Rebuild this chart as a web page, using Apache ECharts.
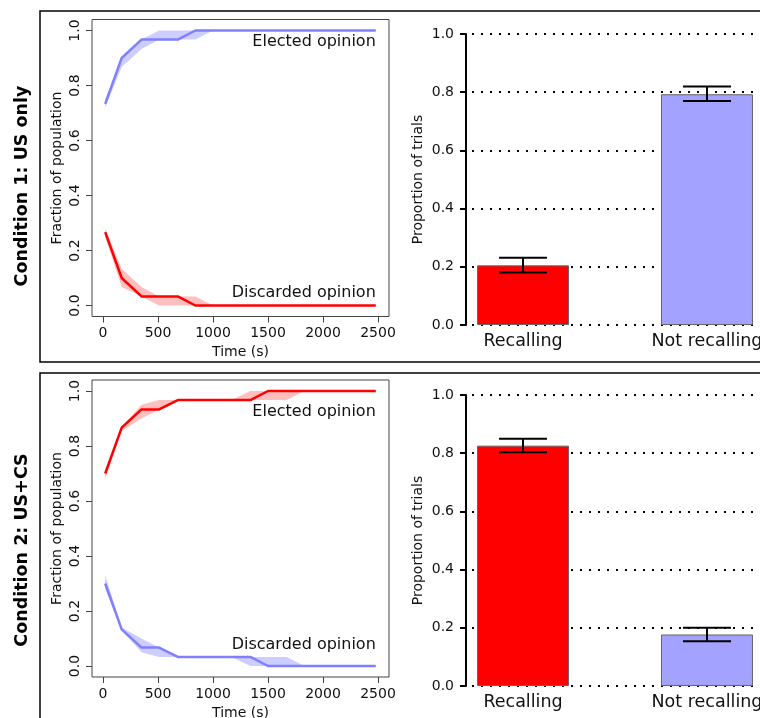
<!DOCTYPE html>
<html>
<head>
<meta charset="utf-8">
<script src="https://cdn.jsdelivr.net/npm/echarts@6/dist/echarts.min.js"></script>
<style>
  html, body { margin: 0; padding: 0; background: #fff; }
  #chart { width: 760px; height: 718px; }
</style>
</head>
<body>
<div id="chart"></div>
<script>
// sampling times (s)
const times = [20, 170, 350, 510, 680, 840, 1000, 1170, 1340, 1500, 1670, 1830, 2000, 2160, 2330, 2480]

// condition 1 (US only): elected = blue, discarded = red
const c1ElectedMean = [0.733, 0.9, 0.967, 0.967, 0.967, 1, 1, 1, 1, 1, 1, 1, 1, 1, 1, 1]
const c1ElectedLo   = [0.72, 0.867, 0.933, 0.967, 0.967, 0.967, 1, 1, 1, 1, 1, 1, 1, 1, 1, 1]
const c1ElectedHi   = [0.75, 0.9, 0.967, 1, 1, 1, 1, 1, 1, 1, 1, 1, 1, 1, 1, 1]
const c1DiscardedMean = [0.267, 0.1, 0.033, 0.033, 0.033, 0, 0, 0, 0, 0, 0, 0, 0, 0, 0, 0]
const c1DiscardedLo   = [0.25, 0.067, 0.033, 0, 0, 0, 0, 0, 0, 0, 0, 0, 0, 0, 0, 0]
const c1DiscardedHi   = [0.28, 0.133, 0.067, 0.033, 0.033, 0.033, 0, 0, 0, 0, 0, 0, 0, 0, 0, 0]

// condition 2 (US+CS): elected = red, discarded = blue
const c2ElectedMean = [0.7, 0.867, 0.933, 0.933, 0.967, 0.967, 0.967, 0.967, 0.967, 1, 1, 1, 1, 1, 1, 1]
const c2ElectedLo   = [0.68, 0.855, 0.9, 0.933, 0.967, 0.967, 0.967, 0.967, 0.967, 0.967, 0.967, 1, 1, 1, 1, 1]
const c2ElectedHi   = [0.71, 0.87, 0.95, 0.967, 0.967, 0.967, 0.967, 0.967, 1, 1, 1, 1, 1, 1, 1, 1]
const c2DiscardedMean = [0.3, 0.133, 0.067, 0.067, 0.033, 0.033, 0.033, 0.033, 0.033, 0, 0, 0, 0, 0, 0, 0]
const c2DiscardedLo   = [0.28, 0.13, 0.05, 0.033, 0.033, 0.033, 0.033, 0.033, 0, 0, 0, 0, 0, 0, 0, 0]
const c2DiscardedHi   = [0.33, 0.14, 0.1, 0.067, 0.033, 0.033, 0.033, 0.033, 0.033, 0.033, 0.033, 0, 0, 0, 0, 0]

// bar panels
const barNames = ['Recalling', 'Not recalling']
const barPos = [1.5, 3.5]
const c1Bars = [0.205, 0.793]
const c1BarLo = [0.18, 0.77]
const c1BarHi = [0.231, 0.82]
const c2Bars = [0.826, 0.177]
const c2BarLo = [0.803, 0.154]
const c2BarHi = [0.85, 0.2]

const timeTicks = [0, 500, 1000, 1500, 2000, 2500]
const fracTicks = [0, 0.2, 0.4, 0.6, 0.8, 1.0]

const RED = '#ff0000'
const RED_BAND = '#ffbfbf'
const BLUE = '#8080ff'
const BLUE_BAND = '#cdcdff'
const BAR_BLUE = '#a3a3ff'
const FONT = '"DejaVu Sans", sans-serif'

const pairs = (ys) => times.map((t, i) => [t, ys[i]])

// shaded band between lo and hi, drawn as one polygon through the axes
const band = (idx, lo, hi, color) => ({
    type: 'custom',
    xAxisIndex: idx, yAxisIndex: idx,
    data: times.map((t, i) => [t, lo[i], hi[i]]),
    silent: true,
    z: 1,
    renderItem: (params, api) => {
        if (params.dataIndex !== 0) return null
        const points = []
        times.forEach((t, i) => points.push(api.coord([t, lo[i]])))
        for (let i = times.length - 1; i >= 0; i--) points.push(api.coord([times[i], hi[i]]))
        return { type: 'polygon', shape: { points }, style: { fill: color } }
    },
})

const meanLine = (idx, mean, color, text, labelY) => ({
    type: 'line',
    xAxisIndex: idx, yAxisIndex: idx,
    data: pairs(mean),
    symbol: 'none',
    lineStyle: { color: color, width: 2.5 },
    z: 3,
    markPoint: {
        symbol: 'circle',
        symbolSize: 0,
        silent: true,
        data: [{
            coord: [2480, labelY],
            label: {
                show: true,
                formatter: text,
                position: 'left',
                distance: 0,
                color: '#111',
                fontSize: 16,
                fontFamily: FONT,
            },
        }],
    },
})

const bars = (idx, values) => ({
    type: 'bar',
    xAxisIndex: idx, yAxisIndex: idx,
    barWidth: 92,
    data: barPos.map((p, i) => ({
        value: [p, values[i]],
        itemStyle: { color: i === 0 ? RED : BAR_BLUE },
    })),
    itemStyle: { borderColor: '#666', borderWidth: 1 },
    z: 2,
})

const errorBars = (idx, lo, hi) => ({
    type: 'custom',
    xAxisIndex: idx, yAxisIndex: idx,
    data: barPos.map((p, i) => [p, lo[i], hi[i]]),
    z: 4,
    renderItem: (params, api) => {
        const top = api.coord([api.value(0), api.value(2)])
        const bot = api.coord([api.value(0), api.value(1)])
        const half = 24
        const style = { stroke: '#000', lineWidth: 2 }
        return {
            type: 'group',
            children: [
                { type: 'line', shape: { x1: top[0], y1: top[1], x2: bot[0], y2: bot[1] }, style },
                { type: 'line', shape: { x1: top[0] - half, y1: top[1], x2: top[0] + half, y2: top[1] }, style },
                { type: 'line', shape: { x1: bot[0] - half, y1: bot[1], x2: bot[0] + half, y2: bot[1] }, style },
            ],
        }
    },
})

const timeAxis = (idx) => ({
    gridIndex: idx,
    type: 'value',
    min: -100,
    max: 2600,
    name: 'Time (s)',
    nameLocation: 'middle',
    nameGap: 29,
    nameTextStyle: { color: '#111', fontSize: 14, fontFamily: FONT },
    axisLine: { show: false, onZero: false },
    axisTick: {
        show: true, length: 6, customValues: timeTicks,
        lineStyle: { color: '#444', width: 1 },
    },
    axisLabel: {
        customValues: timeTicks, color: '#111', fontSize: 14, fontFamily: FONT, margin: 10,
        formatter: (v) => String(v),
    },
    splitLine: { show: false },
})

const fracAxis = (idx) => ({
    gridIndex: idx,
    type: 'value',
    min: -0.04,
    max: 1.04,
    name: 'Fraction of population',
    nameLocation: 'middle',
    nameGap: 28,
    nameTextStyle: { color: '#111', fontSize: 14, fontFamily: FONT },
    axisLine: { show: false, onZero: false },
    axisTick: {
        show: true, length: 6, customValues: fracTicks,
        lineStyle: { color: '#444', width: 1 },
    },
    axisLabel: {
        customValues: fracTicks, rotate: 90, color: '#111', fontSize: 14, fontFamily: FONT, margin: 10,
        formatter: (v) => v.toFixed(1),
    },
    splitLine: { show: false },
})

const barXAxis = (idx) => ({
    gridIndex: idx,
    type: 'value',
    min: 0.88,
    max: 4.12,
    axisLine: { show: false, onZero: false },
    axisTick: { show: false },
    axisLabel: {
        customValues: barPos, color: '#111', fontSize: 17.5, fontFamily: FONT, margin: 7,
        formatter: (v) => barNames[barPos.indexOf(v)],
    },
    splitLine: { show: false },
})

const barYAxis = (idx) => ({
    gridIndex: idx,
    type: 'value',
    min: 0,
    max: 1,
    interval: 0.2,
    name: 'Proportion of trials',
    nameLocation: 'middle',
    nameGap: 41,
    nameTextStyle: { color: '#111', fontSize: 14, fontFamily: FONT },
    axisLine: { show: true, onZero: false, lineStyle: { color: '#000', width: 2 } },
    axisTick: { show: true, length: 6, lineStyle: { color: '#000', width: 2 } },
    axisLabel: { color: '#111', fontSize: 14, fontFamily: FONT, margin: 12, formatter: (v) => v.toFixed(1) },
    splitLine: { show: true, lineStyle: { color: '#000', width: 2, type: [2, 7], dashOffset: -6 } },
})

const chart = echarts.init(document.getElementById('chart'))

const gridBase = { outerBoundsMode: 'none', containLabel: false }

chart.setOption({
    animation: false,
    backgroundColor: '#fff',
    grid: [
        { ...gridBase, left: 92, top: 19.5, width: 297, height: 297, show: true, borderColor: '#444', borderWidth: 1 },
        { ...gridBase, left: 466, top: 34, width: 298, height: 291 },
        { ...gridBase, left: 92, top: 380, width: 297, height: 297, show: true, borderColor: '#444', borderWidth: 1 },
        { ...gridBase, left: 466, top: 395, width: 298, height: 291 },
    ],
    xAxis: [timeAxis(0), barXAxis(1), timeAxis(2), barXAxis(3)],
    yAxis: [fracAxis(0), barYAxis(1), fracAxis(2), barYAxis(3)],
    graphic: [
        { type: 'rect', shape: { x: 40, y: 11, width: 740, height: 351 }, style: { fill: 'none', stroke: '#000', lineWidth: 1.5 } },
        { type: 'rect', shape: { x: 40, y: 373, width: 740, height: 360 }, style: { fill: 'none', stroke: '#000', lineWidth: 1.5 } },
        {
            type: 'text', x: 22, y: 186, rotation: Math.PI / 2,
            style: { text: 'Condition 1: US only', font: 'bold 17.5px ' + FONT, fill: '#000', align: 'center', verticalAlign: 'middle' },
        },
        {
            type: 'text', x: 22, y: 550, rotation: Math.PI / 2,
            style: { text: 'Condition 2: US+CS', font: 'bold 17.5px ' + FONT, fill: '#000', align: 'center', verticalAlign: 'middle' },
        },
    ],
    series: [
        band(0, c1ElectedLo, c1ElectedHi, BLUE_BAND),
        band(0, c1DiscardedLo, c1DiscardedHi, RED_BAND),
        meanLine(0, c1ElectedMean, BLUE, 'Elected opinion', 0.959),
        meanLine(0, c1DiscardedMean, RED, 'Discarded opinion', 0.046),
        bars(1, c1Bars),
        errorBars(1, c1BarLo, c1BarHi),
        band(2, c2ElectedLo, c2ElectedHi, RED_BAND),
        band(2, c2DiscardedLo, c2DiscardedHi, BLUE_BAND),
        meanLine(2, c2ElectedMean, RED, 'Elected opinion', 0.926),
        meanLine(2, c2DiscardedMean, BLUE, 'Discarded opinion', 0.076),
        bars(3, c2Bars),
        errorBars(3, c2BarLo, c2BarHi),
    ],
})
</script>
</body>
</html>
